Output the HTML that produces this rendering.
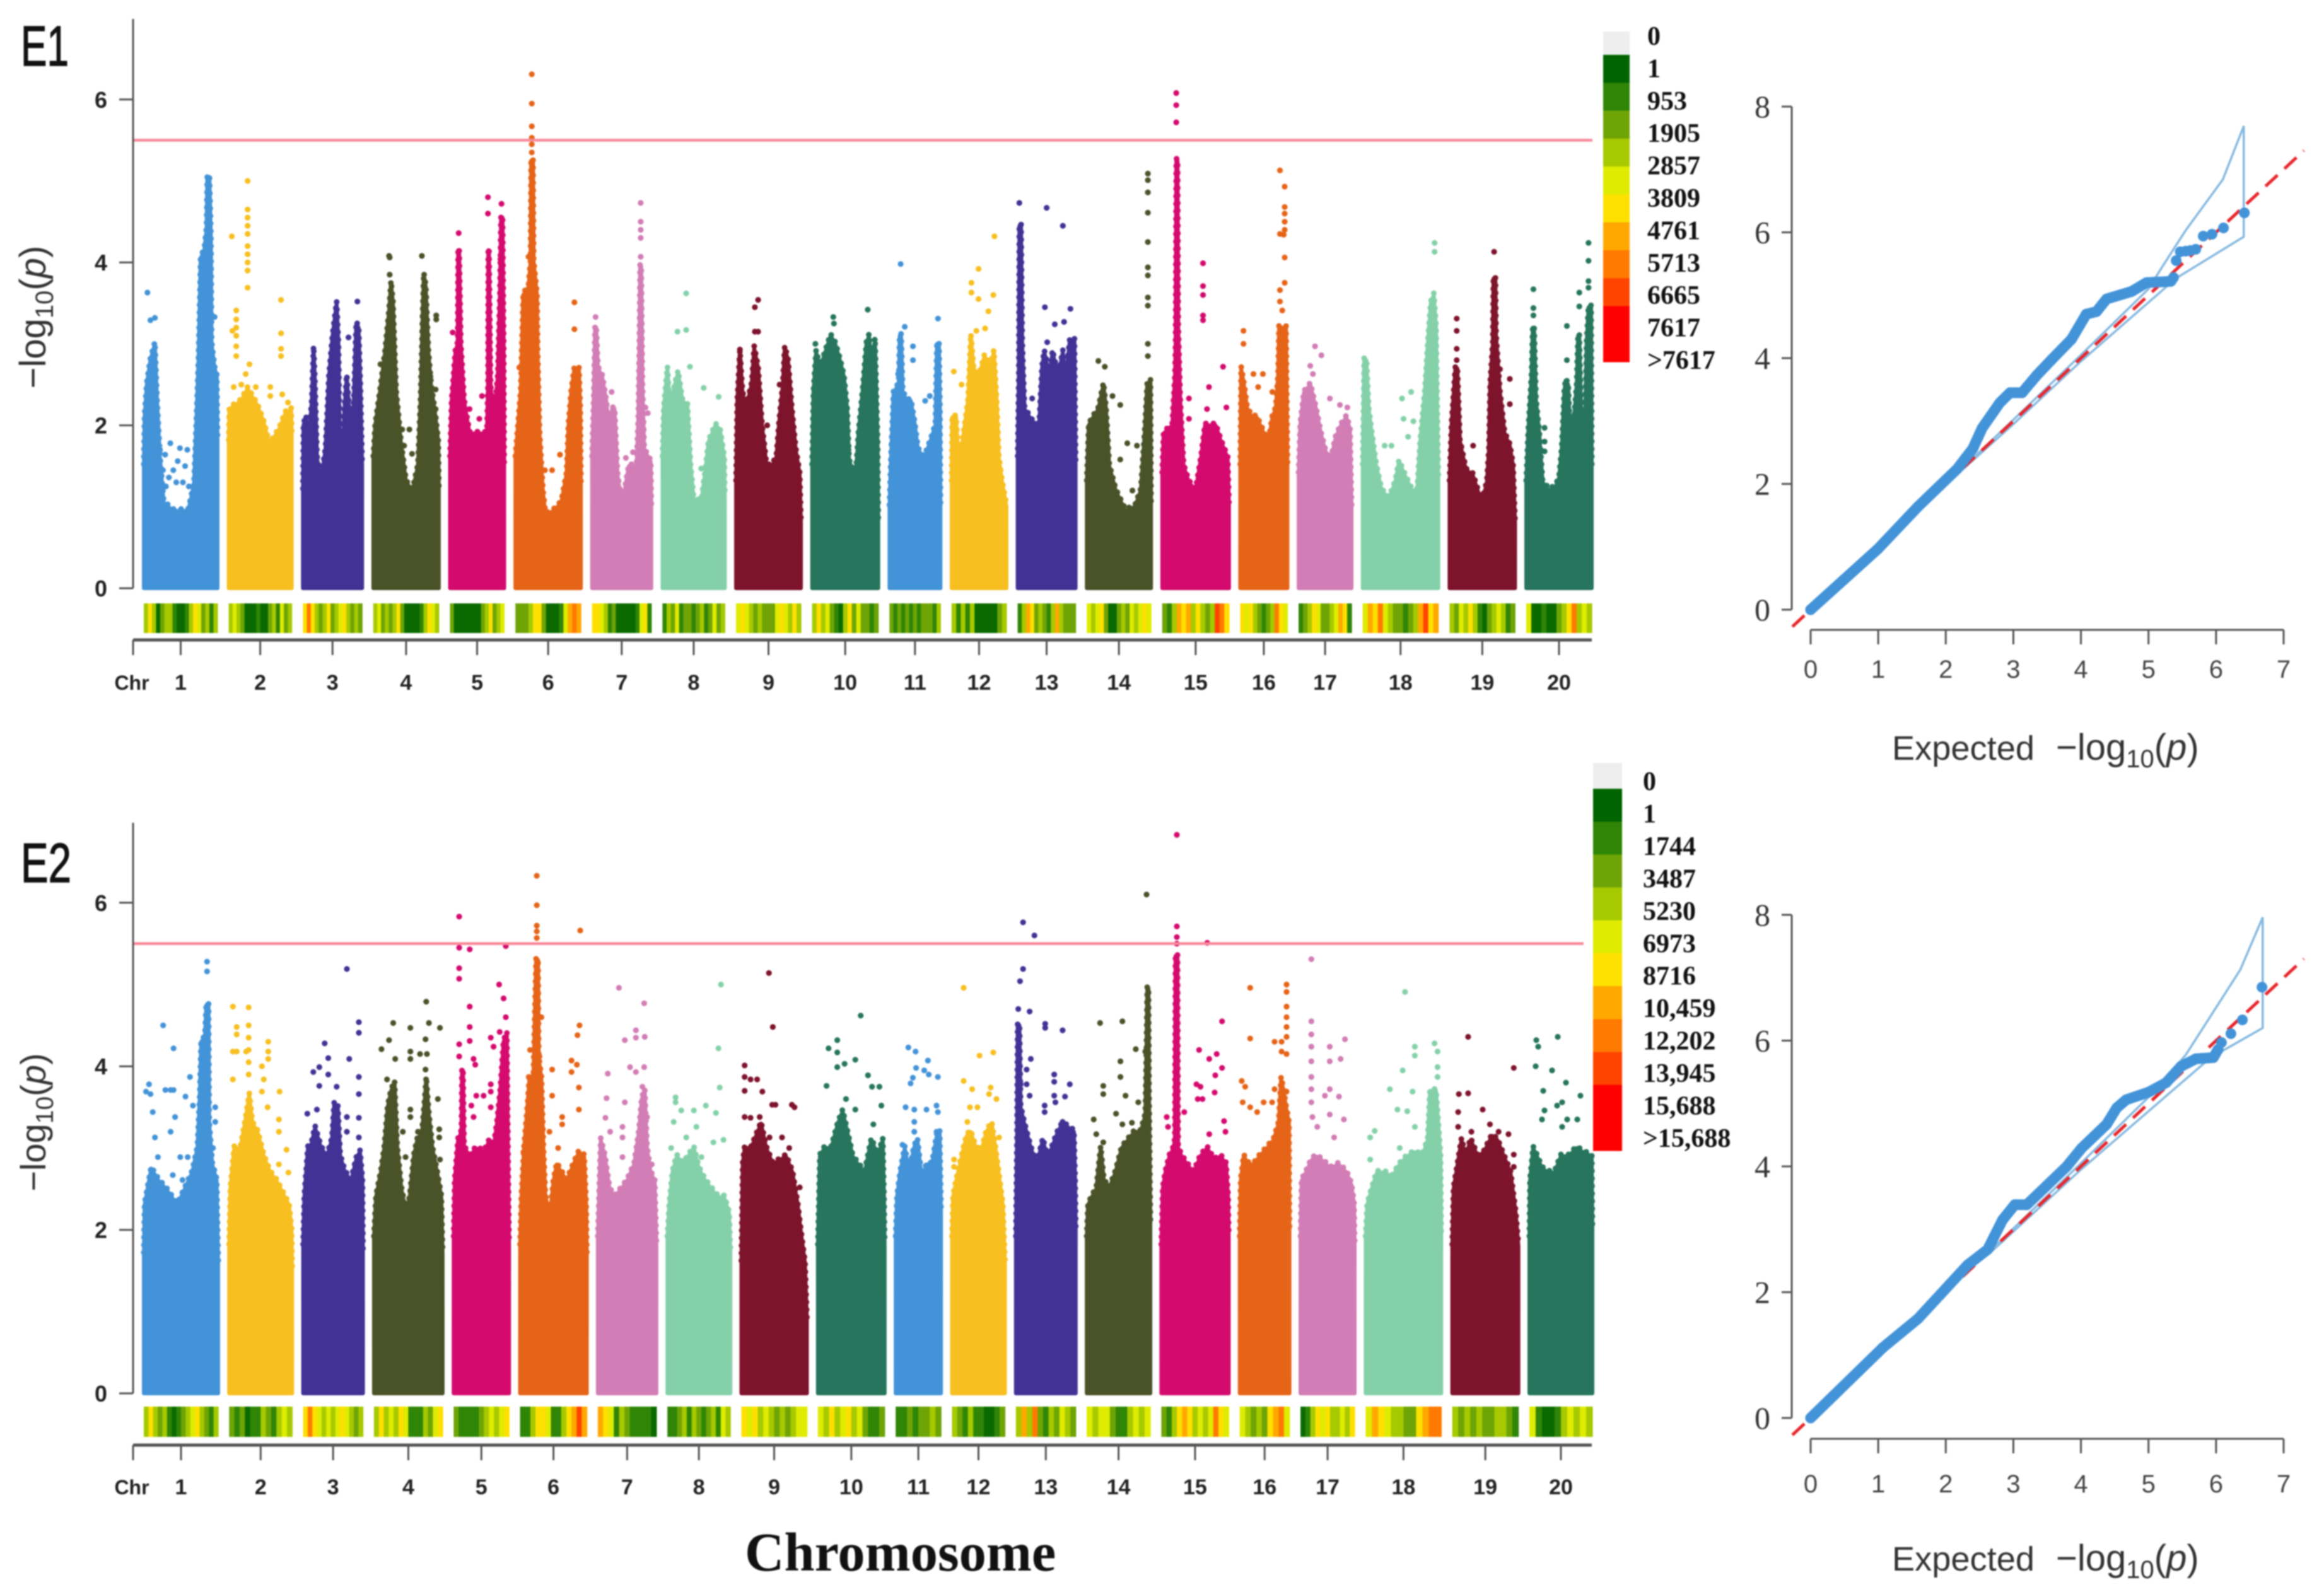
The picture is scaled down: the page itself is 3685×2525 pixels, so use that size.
<!DOCTYPE html>
<html lang="en">
<head>
<meta charset="utf-8">
<title>Manhattan and QQ plots E1 E2</title>
<style>
html,body{margin:0;padding:0;background:#fff;}
svg{display:block;filter:blur(1px);}
text{font-family:"Liberation Sans",sans-serif;}
.serif{font-family:"Liberation Serif",serif;}
</style>
</head>
<body>
<svg id="chart" xmlns="http://www.w3.org/2000/svg" width="3685" height="2525" viewBox="0 0 3685 2525">
  <rect width="3685" height="2525" fill="#fff"/>
  <text x="33" y="104" font-size="90" fill="#111" stroke="#111" stroke-width="1.5" textLength="76" lengthAdjust="spacingAndGlyphs">E1</text>
  <text x="33" y="1399" font-size="88" fill="#111" stroke="#111" stroke-width="1.5" textLength="80" lengthAdjust="spacingAndGlyphs">E2</text>
  <text transform="translate(72,503) rotate(-90)" text-anchor="middle" font-size="58" fill="#333">−log<tspan dy="12" font-size="40">10</tspan><tspan dy="-12">(</tspan><tspan font-style="italic">p</tspan>)</text>
  <text transform="translate(72,1780) rotate(-90)" text-anchor="middle" font-size="56" fill="#333">−log<tspan dy="12" font-size="39">10</tspan><tspan dy="-12">(</tspan><tspan font-style="italic">p</tspan>)</text>
  <text class="serif" x="1181" y="2491" font-size="86.5" font-weight="bold" fill="#111">Chromosome</text>
  <text x="3000" y="1205" font-size="54" fill="#333" textLength="226" lengthAdjust="spacingAndGlyphs">Expected</text>
  <text x="3260" y="1205" font-size="58" fill="#333">−log<tspan dy="12" font-size="40">10</tspan><tspan dy="-12">(</tspan><tspan font-style="italic">p</tspan>)</text>
  <text x="3000" y="2491" font-size="54" fill="#333" textLength="226" lengthAdjust="spacingAndGlyphs">Expected</text>
  <text x="3260" y="2491" font-size="58" fill="#333">−log<tspan dy="12" font-size="40">10</tspan><tspan dy="-12">(</tspan><tspan font-style="italic">p</tspan>)</text>
</svg>
<script>
/* ---------- chart data ---------- */
const chromosomes = ['1','2','3','4','5','6','7','8','9','10','11','12','13','14','15','16','17','18','19','20'];
const e1ChrLengths = [123,106,100,110,92,110,100,105,109,111,87,93,98,108,112,81,90,126,110,110];
const e2ChrLengths = [124,106,101,115,94,112,99,106,110,112,78,90,101,107,113,85,92,126,111,106];
const yTickValues = [0,2,4,6];
const significanceThreshold = 5.5;
const qqYTicks = [0,2,4,6,8];
const qqXTicks = [0,1,2,3,4,5,6,7];
const e1LegendLabels = ['0','1','953','1905','2857','3809','4761','5713','6665','7617','>7617'];
const e2LegendLabels = ['0','1','1744','3487','5230','6973','8716','10,459','12,202','13,945','15,688','>15,688'];

/* upper envelope of the dense SNP mass per chromosome: [position % along chromosome, -log10(p)] */
const e1Envelopes = [
[[0,1.5],[1,2.1],[4,2.5],[9,2.8],[15,3.0],[18,2.3],[22,1.6],[27,1.05],[40,0.95],[60,0.95],[64,1.1],[68,1.3],[71,2.0],[74,2.8],[77,4.05],[82,4.15],[85,4.4],[86,5.05],[89,5.05],[91,4.3],[92,3.0],[96,2.7],[99,2.6],[100,1.8]],
[[0,1.8],[1,2.2],[20,2.3],[30,2.45],[45,2.25],[55,2.05],[65,1.75],[72,1.85],[80,1.95],[90,2.15],[99,2.2],[100,1.9]],
[[0,1.2],[1,2.0],[5,2.1],[10,1.85],[15,2.3],[18,2.95],[20,2.6],[24,1.6],[30,1.3],[38,1.7],[44,2.6],[50,3.1],[57,3.5],[60,3.0],[63,1.5],[66,1.3],[70,2.2],[74,2.6],[78,2.2],[84,1.9],[90,3.25],[94,3.2],[97,2.5],[100,1.5]],
[[0,1.6],[3,2.0],[10,2.4],[18,2.9],[24,3.4],[27,3.75],[30,3.5],[35,2.4],[42,1.8],[50,1.3],[60,1.2],[68,1.5],[72,2.3],[75,3.3],[77,3.85],[80,3.7],[84,2.9],[88,2.5],[95,2.1],[99,1.8],[100,1.2]],
[[0,1.6],[3,2.3],[10,2.9],[14,3.0],[15,4.15],[17,4.15],[20,3.0],[26,2.3],[36,1.9],[55,1.9],[68,1.9],[70,2.5],[70.5,4.15],[72,4.15],[75,2.5],[80,2.0],[88,2.6],[92,3.6],[94,4.55],[97,4.55],[99,3.0],[100,1.5]],
[[0,1.6],[3,1.9],[8,2.4],[11,3.3],[12,3.6],[20,3.7],[23,4.0],[24,5.25],[27,5.25],[28,4.0],[33,3.6],[34,2.9],[37,1.9],[42,1.2],[46,0.9],[58,0.95],[70,1.05],[78,1.4],[81,2.0],[85,2.4],[90,2.7],[97,2.7],[99,2.2],[100,1.2]],
[[0,1.6],[3,2.4],[5,3.2],[7,3.2],[10,2.7],[17,2.6],[24,2.3],[30,1.85],[34,2.2],[38,2.2],[43,1.4],[50,1.0],[55,1.2],[62,1.5],[75,1.5],[78,2.1],[80,3.2],[81,3.95],[83,3.95],[85,2.5],[88,1.7],[99,1.55],[100,1.0]],
[[0,1.6],[2,2.2],[8,2.7],[12,2.2],[20,2.5],[25,2.65],[32,2.3],[40,2.25],[45,1.5],[50,1.1],[62,1.05],[68,1.4],[74,1.8],[85,2.0],[92,1.95],[99,1.6],[100,1.1]],
[[0,1.3],[2,2.3],[6,2.9],[10,2.4],[15,2.2],[24,2.5],[28,2.95],[34,2.7],[40,2.0],[47,1.5],[55,1.5],[62,1.6],[66,2.0],[72,2.5],[75,2.95],[80,2.8],[86,2.2],[92,1.7],[98,1.4],[100,0.8]],
[[0,1.5],[2,2.4],[6,2.9],[12,2.7],[20,2.9],[28,3.1],[35,3.0],[42,2.8],[48,2.6],[53,2.2],[56,1.55],[66,1.4],[70,1.9],[76,2.4],[82,3.0],[86,3.1],[90,2.7],[95,3.05],[99,1.8],[100,0.8]],
[[0,1.0],[3,1.6],[8,2.4],[18,2.5],[20,3.1],[23,3.1],[26,2.4],[34,2.3],[42,2.3],[50,2.0],[56,1.7],[68,1.6],[80,1.8],[90,2.0],[93,3.0],[97,3.0],[99,2.2],[100,1]],
[[0,1.3],[1,2.1],[8,2.1],[12,1.65],[20,1.8],[30,2.3],[35,3.1],[40,2.7],[50,2.6],[60,2.85],[70,2.7],[77,2.9],[82,2.3],[86,1.6],[92,1.3],[100,1.0]],
[[0,1.6],[2,2.6],[3,4.45],[6,4.45],[8,3.0],[12,2.2],[25,2.05],[37,2.0],[42,2.7],[46,2.9],[55,2.6],[60,2.9],[70,2.6],[78,2.9],[82,2.5],[90,3.05],[98,3.05],[100,1.5]],
[[0,1.3],[3,2.0],[10,2.1],[18,2.2],[26,2.5],[30,2.2],[35,1.5],[45,1.2],[60,0.95],[75,1.0],[84,1.2],[90,1.9],[94,2.5],[99,2.55],[100,1.0]],
[[0,1.4],[2,1.9],[15,2.0],[19,2.6],[20,3.0],[21,5.25],[23,5.25],[24,3.2],[27,2.3],[32,1.5],[40,1.3],[50,1.2],[58,1.6],[64,2.0],[72,2.0],[80,2.0],[88,1.8],[98,1.6],[100,1.0]],
[[0,1.5],[2,2.7],[8,2.5],[15,2.2],[25,2.1],[35,2.1],[50,1.9],[60,1.8],[68,2.1],[75,2.2],[80,2.6],[82,3.2],[97,3.2],[100,1.5]],
[[0,1.4],[3,2.0],[10,2.4],[22,2.5],[33,2.2],[42,1.9],[50,1.7],[60,1.55],[70,1.85],[80,2.0],[90,2.1],[97,1.95],[100,1.0]],
[[0,1.5],[2,2.8],[5,2.8],[8,2.2],[12,1.9],[18,1.5],[25,1.2],[35,1.1],[43,1.3],[48,1.55],[55,1.4],[65,1.2],[72,1.2],[76,1.8],[82,2.4],[86,3.0],[90,3.5],[94,3.6],[97,3.2],[100,1.3]],
[[0,1.3],[3,2.0],[9,2.7],[12,2.7],[16,1.8],[25,1.45],[35,1.4],[45,1.15],[50,1.05],[57,1.3],[60,1.7],[62,2.5],[66,3.0],[67,3.8],[70,3.8],[71,3.1],[77,2.4],[84,1.9],[92,1.75],[97,1.5],[100,0.8]],
[[0,1.3],[3,1.9],[8,2.6],[10,3.2],[12,3.2],[15,2.3],[20,1.9],[25,1.3],[35,1.2],[45,1.25],[50,1.35],[54,1.7],[58,2.4],[60,2.55],[64,2.5],[66,2.1],[72,2.0],[77,2.5],[79,3.1],[81,3.1],[84,2.1],[90,2.1],[92,3.0],[95,3.45],[99,3.45],[100,1.5]]
];

/* individual SNPs above the envelope: [position %, -log10(p)] */
const e1Hits = [
[[5,3.63],[9,3.29],[15,3.32],[96,3.33],[36,1.78],[49,1.72],[59,1.7],[29,1.64],[22,1.7],[46,1.56],[34,1.36],[20,1.2],[53,1.3],[40,1.45],[44,1.3],[30,1.25],[56,1.5],[26,1.45],[61,1.25]],
[[5,4.32],[30,5.0],[30,4.65],[30,4.55],[30,4.45],[30,4.35],[30,4.2],[30,4.1],[30,4.0],[30,3.9],[30,3.69],[12,3.41],[12,3.3],[12,3.2],[6,3.16],[12,3.1],[12,2.97],[12,2.85],[83,3.54],[83,3.13],[83,2.94],[83,2.85],[33,2.75],[27,2.63],[8,2.47],[20,2.5],[43,2.47],[66,2.47],[85,2.38],[94,2.28],[66,2.36]],
[[92,3.52],[77,3.08]],
[[25,4.06],[24,4.08],[74,4.08],[25,3.85],[96,3.35],[96,3.3],[11,2.75],[87,2.6],[85,2.46],[95,2.44],[95,2.2],[44,1.95],[55,1.95],[47,1.75],[59,1.65]],
[[16,4.36],[5,3.14],[70,4.8],[70,4.6],[95,4.72],[59,2.36],[93,4.04],[36,2.2],[54,2.08],[18,2.66]],
[[25,6.31],[25,5.95],[25,5.67],[25,5.53],[25,5.45],[25,5.35],[90,3.51],[90,3.18],[6,2.71],[20,4.07],[26,3.96],[68,1.64],[56,1.45],[45,1.45]],
[[82,4.73],[82,4.5],[82,4.4],[82,4.3],[82,4.07],[83,3.13],[83,2.85],[6,3.33],[33,2.41],[90,2.22],[94,2.15],[57,1.6],[69,1.67],[48,1.2],[50,0.95]],
[[38,3.62],[24,3.15],[38,3.17],[44,2.72],[66,2.46],[90,2.35],[62,1.47]],
[[34,3.54],[29,3.45],[29,3.15],[34,3.15],[6,2.93],[6,2.79],[67,2.5],[48,2.0]],
[[32,3.33],[33,3.25],[84,3.42],[5,3.0],[55,1.7]],
[[22,3.98],[30,3.21],[95,3.31],[46,2.97],[46,2.8],[17,2.63],[79,2.36],[70,2.3],[74,1.53],[70,1.15]],
[[78,4.32],[49,3.92],[36,3.75],[36,3.63],[49,3.55],[76,3.6],[67,3.4],[61,3.19],[45,3.16],[4,2.66],[18,2.5]],
[[3,4.73],[50,4.67],[78,4.45],[47,3.45],[91,3.43],[80,3.27],[64,3.24],[51,3.02],[25,2.33]],
[[95,5.09],[95,5.01],[95,4.86],[95,4.61],[95,4.25],[95,3.94],[95,3.84],[95,3.57],[95,3.47],[95,3.0],[95,2.85],[18,2.79],[28,2.72],[40,2.36],[52,2.25],[63,1.78],[78,1.75],[71,1.2],[52,1.58]],
[[21,6.08],[21,5.93],[21,5.72],[61,3.99],[61,3.71],[61,3.6],[61,3.35],[61,3.29],[91,2.72],[70,2.47],[40,2.33],[40,2.08],[96,2.22],[67,2.2]],
[[7,3.16],[7,3.0],[84,5.13],[94,4.93],[94,4.68],[94,4.6],[94,4.5],[94,4.4],[84,4.35],[92,4.34],[94,4.06],[94,3.75],[84,3.66],[84,3.52],[89,3.41],[28,2.63],[48,2.63],[38,2.47],[68,2.41]],
[[31,2.97],[43,2.86],[22,2.73],[27,2.63],[59,2.33],[78,2.25],[92,2.22]],
[[95,4.24],[95,4.13],[64,2.41],[52,2.33],[54,2.08],[67,2.05],[60,1.86],[29,1.75],[38,1.75]],
[[68,4.13],[11,3.31],[11,3.16],[11,2.94],[11,2.8],[92,2.57],[92,2.26],[77,2.69],[73,2.41],[17,1.75],[36,1.75]],
[[95,4.24],[95,4.02],[95,3.77],[95,3.69],[81,3.63],[81,3.46],[62,3.22],[62,2.8],[11,3.67],[11,3.44],[11,3.35],[28,1.97],[28,1.8],[28,1.68]]
];

const e2Envelopes = [
[[0,1.7],[1,2.3],[5,2.5],[10,2.75],[20,2.6],[30,2.5],[45,2.3],[55,2.5],[65,2.7],[72,3.0],[75,3.6],[77,4.3],[82,4.35],[84,4.75],[87,4.75],[88,3.3],[92,2.8],[98,2.6],[100,1.6]],
[[0,1.8],[2,2.5],[8,3.0],[18,3.0],[25,3.3],[32,3.65],[37,3.3],[45,3.2],[55,2.9],[65,2.7],[75,2.6],[85,2.45],[95,2.3],[99,2.0],[100,1.5]],
[[0,1.8],[2,2.4],[8,3.0],[14,3.05],[20,3.25],[30,3.0],[40,2.9],[48,3.1],[52,3.55],[58,3.5],[62,2.9],[70,2.7],[80,2.6],[90,2.9],[95,2.95],[99,2.6],[100,1.7]],
[[0,1.9],[3,2.4],[10,2.7],[15,3.0],[20,3.5],[25,3.7],[30,3.8],[34,3.0],[40,2.5],[47,2.2],[52,2.4],[58,2.9],[63,3.1],[70,3.2],[74,3.6],[76,3.85],[80,3.4],[85,3.0],[92,2.7],[98,2.4],[100,1.7]],
[[0,1.9],[2,2.6],[8,3.1],[14,3.2],[15,3.95],[17,3.95],[19,3.0],[30,2.9],[40,3.0],[55,2.95],[65,3.1],[72,3.0],[78,3.3],[84,3.7],[90,4.3],[96,4.4],[98,3.0],[100,1.8]],
[[0,1.8],[2,2.4],[6,3.0],[10,3.4],[14,3.85],[20,3.9],[24,5.3],[27,5.3],[28,4.1],[32,3.85],[35,3.0],[38,2.4],[45,2.2],[50,2.6],[55,2.8],[62,2.7],[70,2.6],[80,2.8],[88,2.95],[96,2.9],[99,2.3],[100,1.7]],
[[0,1.9],[2,2.4],[5,3.1],[12,2.9],[20,2.5],[28,2.4],[40,2.5],[50,2.6],[62,2.8],[70,3.2],[75,3.6],[80,3.7],[84,3.0],[90,2.7],[97,2.6],[100,1.8]],
[[0,1.9],[3,2.3],[8,2.7],[15,2.9],[25,2.8],[33,2.9],[42,3.0],[50,2.75],[60,2.6],[70,2.5],[80,2.4],[90,2.4],[98,2.2],[100,1.7]],
[[0,1.6],[2,2.8],[5,3.0],[15,3.0],[25,3.2],[30,3.3],[38,3.0],[48,2.8],[58,2.85],[68,2.9],[78,2.7],[86,2.3],[92,1.9],[97,1.6],[100,0.9]],
[[0,1.8],[3,2.9],[10,3.0],[20,3.0],[30,3.3],[37,3.45],[44,3.2],[52,2.9],[60,2.8],[70,2.7],[80,3.1],[90,2.9],[97,3.1],[99,2.4],[100,1.8]],
[[0,1.9],[3,2.4],[10,2.7],[20,3.0],[30,2.7],[40,3.0],[48,3.1],[58,2.6],[68,2.8],[80,2.8],[92,3.2],[97,3.2],[100,2.2]],
[[0,1.9],[2,2.4],[8,2.6],[15,2.8],[22,3.0],[28,3.15],[35,3.2],[45,3.0],[55,2.95],[65,3.2],[75,3.3],[82,3.0],[90,2.6],[96,2.3],[100,1.6]],
[[0,1.9],[2,3.2],[3,4.5],[6,4.5],[8,3.5],[14,3.3],[25,3.0],[35,2.8],[45,3.1],[52,2.9],[60,3.0],[70,3.2],[78,3.3],[88,3.25],[97,3.2],[99,2.6],[100,2.0]],
[[0,1.9],[2,2.3],[8,2.4],[15,2.5],[22,3.0],[27,2.6],[35,2.5],[45,2.7],[55,3.0],[65,3.1],[75,3.2],[85,3.2],[92,3.4],[94,4.3],[95,4.95],[97,4.95],[98,3.6],[100,2.1]],
[[0,1.8],[2,2.5],[6,2.7],[12,2.9],[18,3.0],[20,3.1],[21,5.35],[24,5.35],[25,3.0],[30,2.9],[38,2.8],[48,2.7],[58,2.9],[68,3.0],[78,2.85],[88,2.9],[96,2.8],[99,2.4],[100,1.9]],
[[0,1.9],[2,2.6],[8,2.9],[18,2.8],[28,2.8],[40,2.9],[55,3.0],[68,3.1],[78,3.3],[83,3.85],[88,3.7],[93,3.5],[99,3.3],[100,2.0]],
[[0,1.9],[2,2.6],[10,2.7],[20,2.85],[28,2.9],[40,2.85],[55,2.75],[70,2.8],[85,2.7],[94,2.55],[99,2.3],[100,1.8]],
[[0,1.9],[2,2.3],[8,2.5],[15,2.7],[25,2.7],[35,2.65],[45,2.8],[55,2.9],[65,2.95],[75,2.9],[82,3.1],[85,3.7],[93,3.7],[96,3.3],[99,2.9],[100,1.9]],
[[0,1.8],[2,2.5],[8,2.8],[14,3.1],[20,2.9],[28,3.1],[38,2.9],[48,2.95],[60,3.15],[68,3.1],[78,2.9],[88,2.7],[96,2.2],[100,1.8]],
[[0,1.9],[1,2.6],[6,3.0],[12,2.9],[20,2.75],[30,2.7],[40,2.7],[50,2.9],[62,2.9],[75,3.0],[85,2.95],[99,2.9],[100,2.0]]
];

const e2Hits = [
[[85,5.28],[85,5.16],[26,4.5],[40,4.22],[62,3.87],[7,3.78],[3,3.69],[9,3.66],[29,3.71],[36,3.71],[40,3.71],[56,3.63],[66,3.52],[96,3.5],[96,3.32],[42,3.38],[12,3.44],[15,3.13],[36,3.2],[49,2.89],[59,2.89],[39,2.67],[19,2.89],[93,3.0],[52,2.61],[39,2.28]],
[[6,4.73],[31,4.72],[12,4.48],[12,4.39],[31,4.5],[31,4.35],[31,4.2],[31,4.05],[31,3.9],[6,4.18],[12,4.18],[27,4.18],[62,4.3],[62,4.18],[62,4.09],[52,4.0],[6,3.84],[55,3.84],[52,3.69],[80,3.69],[61,3.5],[79,3.35],[79,3.2],[91,2.98],[79,2.8],[94,2.7]],
[[73,5.19],[36,4.28],[93,4.54],[93,4.41],[42,4.1],[77,4.09],[17,3.93],[27,3.99],[42,3.9],[93,3.87],[27,3.76],[56,3.75],[93,3.66],[7,3.42],[23,3.47],[73,3.38],[93,3.37],[73,3.2],[93,3.13]],
[[76,4.79],[28,4.53],[53,4.47],[80,4.53],[96,4.47],[22,4.32],[11,4.21],[75,4.33],[31,4.09],[53,4.18],[53,4.09],[67,4.15],[77,4.15],[75,3.96],[93,3.6],[19,3.84],[53,3.47],[53,3.38],[95,3.23],[95,3.13],[96,2.86],[13,2.67],[42,3.2],[46,2.89],[64,3.2]],
[[10,5.83],[10,5.45],[29,5.43],[94,5.47],[10,5.2],[10,5.07],[82,5.0],[90,4.83],[29,4.73],[94,4.6],[29,4.48],[10,4.27],[29,4.31],[10,4.12],[36,4.09],[39,4.02],[67,4.35],[83,4.42],[72,4.24],[67,3.78],[67,3.69],[41,3.64],[54,3.64],[32,3.52],[67,3.5],[85,3.5],[36,3.38]],
[[25,6.33],[25,5.97],[25,5.72],[25,5.65],[25,5.57],[90,5.66],[89,4.5],[86,4.38],[32,4.6],[15,4.2],[29,4.12],[77,4.07],[85,4.02],[48,3.96],[77,3.93],[13,3.87],[88,3.74],[48,3.64],[88,3.47],[63,3.38],[63,3.29],[44,3.2],[57,3.0],[5,2.95]],
[[36,4.96],[79,4.77],[65,4.44],[65,4.35],[46,4.32],[80,4.36],[55,3.99],[79,3.99],[65,3.93],[17,3.91],[15,3.61],[46,3.56],[13,3.37],[42,3.26],[42,3.13],[76,3.75],[84,3.38],[92,2.8],[42,2.89],[21,3.2]],
[[85,5.0],[81,4.22],[83,3.74],[13,3.62],[13,3.56],[22,3.46],[42,3.46],[61,3.52],[77,3.43],[10,3.32],[46,3.26],[89,3.1],[6,3.0],[73,3.07],[30,3.13],[54,2.89]],
[[42,5.14],[48,4.48],[5,4.01],[5,3.87],[5,3.7],[14,3.84],[24,3.84],[32,3.69],[47,3.53],[52,3.53],[77,3.53],[81,3.5],[5,3.38],[14,3.37],[28,3.38],[43,3.13],[62,3.13],[73,3.0],[89,2.52]],
[[64,4.62],[29,4.32],[16,4.22],[29,4.17],[56,4.08],[40,4.03],[29,3.99],[75,3.89],[13,3.76],[81,3.75],[92,3.75],[95,3.52],[42,3.6],[56,3.47],[83,3.29]],
[[28,4.23],[44,4.18],[71,4.07],[45,3.98],[63,3.95],[93,3.87],[38,3.86],[33,3.79],[73,3.9],[22,3.5],[41,3.47],[68,3.47],[90,3.52],[93,3.44],[41,3.32],[41,3.2],[15,3.04],[90,3.2]],
[[22,4.96],[78,4.17],[52,4.13],[22,3.82],[38,3.72],[73,3.74],[84,3.6],[48,3.5],[34,3.5],[29,3.32],[70,3.66],[4,2.86],[4,2.77],[89,3.13]],
[[12,5.76],[31,5.6],[12,5.19],[7,5.04],[4,4.7],[23,4.67],[49,4.52],[49,4.47],[78,4.44],[25,4.09],[18,3.96],[8,3.78],[18,3.78],[23,3.64],[64,3.9],[64,3.81],[64,3.64],[90,3.78],[82,3.63],[48,3.52],[48,3.44],[66,3.56],[78,3.32]],
[[94,6.1],[21,4.53],[56,4.55],[77,4.21],[92,4.18],[53,4.06],[53,3.87],[26,3.76],[26,3.66],[61,3.64],[81,3.56],[11,3.35],[46,3.42],[56,3.29],[71,3.31],[15,3.17],[26,3.07]],
[[23,6.83],[23,5.71],[23,5.58],[23,5.5],[68,5.51],[90,4.55],[56,4.2],[82,4.15],[71,4.09],[90,3.98],[80,3.89],[52,3.78],[58,3.75],[79,3.68],[54,3.6],[61,3.6],[8,3.38],[93,3.33],[10,3.26],[95,3.2],[71,3.17],[34,3.44]],
[[21,4.96],[94,5.0],[94,4.91],[94,4.73],[94,4.6],[94,4.48],[94,4.36],[21,4.34],[70,4.3],[84,4.3],[84,4.18],[94,4.15],[4,3.82],[11,3.75],[70,3.72],[94,3.69],[6,3.56],[21,3.5],[48,3.56],[35,3.44],[65,3.56]],
[[20,5.31],[20,4.55],[20,4.39],[20,4.24],[20,4.06],[20,3.87],[20,3.72],[20,3.56],[54,4.24],[54,4.06],[82,4.33],[74,4.09],[54,3.72],[45,3.64],[71,3.63],[22,3.38],[54,3.41],[80,3.35],[62,3.13],[31,3.26]],
[[52,4.91],[65,4.24],[65,4.13],[91,4.28],[95,4.18],[95,3.99],[95,3.87],[49,3.95],[32,3.72],[62,3.69],[42,3.47],[55,3.45],[12,3.21],[6,3.13],[6,2.86],[65,3.26],[45,3.0]],
[[24,4.36],[93,3.98],[10,3.66],[24,3.67],[9,3.44],[9,3.26],[46,3.47],[57,3.29],[29,3.2],[85,3.17],[93,2.92],[93,2.77],[70,3.2]],
[[11,4.32],[14,4.24],[45,4.36],[10,4.0],[36,3.95],[58,3.8],[22,3.7],[81,3.64],[52,3.56],[44,3.52],[24,3.46],[20,3.35],[60,3.35],[76,3.35],[52,3.26]]
];

/* SNP density level per bin along each chromosome */
const e1Density = ['353023310013542313','3432000100231423','575323523453232','34232352000013543','20000000235234','222355200014676','554312000001451','132412212312423','454323222454353','353421035242212','2121212122213','313130000023','13652321363222','434520023243454','21365635323875','54532123754','123542234651','465743221236856','32435310234312','4001002357343'];
const e2Density = ['3532310123453213','212011321343','5754343454323','35343541113245','21111234345','1135541135686','65413211110','1123132123143','545343232344','435345342112','11212232','3213110012','36372132432','43442113434','2135653434754','432325674','01354533435','465433225677','32323223321','4100134343'];

/* QQ plots: expected vs observed */
const e1QqExpected = [0,1,1.59,2.17,2.4,2.54,2.8,2.95,3.13,3.35,3.57,3.86,4.08,4.23,4.38,4.75,4.97,5.33,5.37,5.41,5.47,5.55,5.62,5.7,5.81,5.94,6.11,6.42];
const e1QqObserved = [0,0.97,1.64,2.24,2.56,2.89,3.29,3.45,3.45,3.73,3.98,4.3,4.7,4.74,4.94,5.06,5.2,5.22,5.28,5.55,5.69,5.7,5.71,5.73,5.94,5.97,6.07,6.31];
const e1QqDenseCount = 19;
const e1CiUpperX = [2.2,3,4,5,5.19,5.55,6.1,6.41];
const e1CiUpperY = [2.2,3.02,4.05,5.1,5.43,6.03,6.84,7.69];
const e1CiLowerX = [6.41,5.41,4,3,2.2];
const e1CiLowerY = [5.93,5.27,3.95,2.95,2.18];

const e2QqExpected = [0,1.07,1.59,2.32,2.62,2.84,3.02,3.2,3.5,3.79,4.01,4.38,4.53,4.67,5,5.26,5.48,5.7,5.96,6.03,6.08,6.22,6.39,6.68];
const e2QqObserved = [0,1.12,1.58,2.43,2.68,3.15,3.39,3.39,3.7,4.0,4.29,4.67,4.93,5.06,5.18,5.33,5.59,5.71,5.73,5.86,5.97,6.11,6.33,6.85];
const e2QqDenseCount = 20;
const e2CiUpperX = [2.65,4,5,5.55,6.36,6.69];
const e2CiUpperY = [2.65,4.05,5.1,5.77,7.13,7.96];
const e2CiLowerX = [6.69,5.92,4,2.65];
const e2CiLowerY = [6.2,5.73,3.95,2.62];

/* ---------- styling ---------- */
const chrPalette = ['#4393d8','#f7bf20','#423295','#4a5228','#d40a6e','#e66418','#d27db5','#84d1a9','#7e132c','#26755c'];
const densityPalette = ['#0a6a00','#2f8506','#6ea406','#a6c900','#dfeb00','#fde000','#ffa800','#ff7a00','#ff4400','#ff0000'];
const legendPalette = ['#eeeeee','#006400','#2f8506','#6ea406','#a6c900','#dfeb00','#fde000','#ffa800','#ff7a00','#ff4400','#ff0000','#ff0000'];

/* ---------- drawing ---------- */
const NS = 'http://www.w3.org/2000/svg';
const root = document.getElementById('chart');
function make(tag, attrs, parent) {
  const node = document.createElementNS(NS, tag);
  for (const key in attrs) node.setAttribute(key, attrs[key]);
  (parent || root).appendChild(node);
  return node;
}

function drawManhattan(cfg) {
  const group = make('g', {});
  
  
  const yScale = v => cfg.y0 - v * cfg.unit;
  const total = cfg.lengths.reduce((a, b) => a + b, 0);
  const gap = (cfg.right - cfg.left - total) / (cfg.lengths.length - 1);
  let cursor = cfg.left;
  const starts = cfg.lengths.map(len => { const s = cursor; cursor += len + gap; return s; });
  const xScale = (c, pos) => starts[c] + 3 + (cfg.lengths[c] - 6) * pos / 100;

  chromosomes.forEach((name, c) => {
    const colour = chrPalette[c % 10];
    const env = cfg.envelopes[c];
    let d = 'M' + xScale(c, 0) + ' ' + yScale(0);
    env.forEach(p => { d += 'L' + xScale(c, p[0]).toFixed(1) + ' ' + yScale(p[1]).toFixed(1); });
    d += 'L' + xScale(c, 100) + ' ' + yScale(0) + 'Z';
    const mass = make('path', { d: d, fill: colour, stroke: colour, 'stroke-width': 6, 'stroke-linejoin': 'round' }, group);
    
    
    /* dotted fringe following the mass outline */
    const edge = env.map(p => xScale(c, p[0]).toFixed(1) + ',' + (yScale(p[1]) - 3).toFixed(1)).join(' ');
    const fringe = make('polyline', { points: edge, fill: 'none', stroke: colour, 'stroke-width': 9, 'stroke-linecap': 'round', 'stroke-dasharray': '0 12' }, group);
    
    
    cfg.hits[c].forEach(p => {
      const dot = make('circle', { cx: xScale(c, p[0]).toFixed(1), cy: yScale(p[1]).toFixed(1), r: 4.6, fill: colour }, group);
      
      
    });
    /* density strip */
    const bins = cfg.density[c];
    const bw = (cfg.lengths[c] - 6) / bins.length;
    for (let b = 0; b < bins.length; b++) {
      const cell = make('rect', { x: (starts[c] + 3 + b * bw).toFixed(1), y: cfg.stripTop, width: (bw + 0.6).toFixed(1), height: cfg.stripH, fill: densityPalette[+bins[b]] }, group);
      
      
    }
    /* x tick and label */
    const tx = starts[c] + cfg.lengths[c] / 2;
    const tick = make('line', { x1: tx, x2: tx, y1: cfg.axisY, y2: cfg.axisY + 24, stroke: '#555', 'stroke-width': 3 }, group);
    
    
    const label = make('text', { x: tx, y: cfg.labelY, 'text-anchor': 'middle', 'font-size': 34, 'font-weight': 'bold', fill: '#222' }, group);
    label.textContent = name;
    
    
  });

  const thr = make('line', { x1: cfg.axisX, x2: cfg.thrEnd, y1: yScale(significanceThreshold), y2: yScale(significanceThreshold), stroke: '#f98a9a', 'stroke-width': 4.5 }, group);
  
  

  const yAxis = make('line', { x1: cfg.axisX, x2: cfg.axisX, y1: cfg.top, y2: cfg.y0, stroke: '#555', 'stroke-width': 3 }, group);
  
  
  yTickValues.forEach(v => {
    const t = make('line', { x1: cfg.axisX - 22, x2: cfg.axisX, y1: yScale(v), y2: yScale(v), stroke: '#555', 'stroke-width': 3 }, group);
    
    
    const l = make('text', { x: 160, y: yScale(v) + 13, 'text-anchor': 'middle', 'font-size': 36, 'font-weight': 'bold', fill: '#222' }, group);
    l.textContent = String(v);
    
    
  });

  const xAxis = make('line', { x1: cfg.axisX, x2: 2524, y1: cfg.axisY, y2: cfg.axisY, stroke: '#555', 'stroke-width': 5 }, group);
  
  
  const endTick = make('line', { x1: cfg.axisX, x2: cfg.axisX, y1: cfg.axisY, y2: cfg.axisY + 24, stroke: '#555', 'stroke-width': 3 }, group);
  
  
  const chr = make('text', { x: 209, y: cfg.labelY, 'text-anchor': 'middle', 'font-size': 32, 'font-weight': 'bold', fill: '#222' }, group);
  chr.textContent = 'Chr';
  
  

  /* legend */
  const cellH = (cfg.legBottom - cfg.legStart) / (legendPalette.length - 1);
  legendPalette.forEach((col, i) => {
    const yTop = i === 0 ? cfg.legTop : cfg.legStart + (i - 1) * cellH;
    const h = i === 0 ? cfg.legStart - cfg.legTop : cellH + 0.5;
    const swatch = make('rect', { x: cfg.legX, y: yTop.toFixed(1), width: cfg.legW, height: h.toFixed(1), fill: col }, group);
    
    
  });
  cfg.legendLabels.forEach((txt, i) => {
    const lab = make('text', { class: 'serif', x: cfg.legLabelX, y: (cfg.legLabelY + i * cfg.legLabelStep + 13).toFixed(1), 'font-size': 42, 'font-weight': 'bold', fill: '#111' }, group);
    lab.textContent = txt;
    
    
  });
}

function drawQq(cfg) {
  const group = make('g', {});
  
  
  const xS = v => 2871 + v * 107.14;
  const yS = v => cfg.y0 - v * 99.75;
  const pts = (xs, ys) => xs.map((x, i) => xS(x).toFixed(1) + ',' + yS(ys[i]).toFixed(1)).join(' ');

  const ci = make('polyline', { points: pts(cfg.ciUpperX.concat(cfg.ciLowerX), cfg.ciUpperY.concat(cfg.ciLowerY)), fill: 'none', stroke: '#86b9e0', 'stroke-width': 3.5 }, group);
  
  

  const ref = make('line', { x1: xS(-0.27), y1: yS(-0.27), x2: xS(7.3), y2: yS(7.3), stroke: '#e8262c', 'stroke-width': 5, 'stroke-dasharray': '26 15' }, group);
  
  

  const dense = make('polyline', { points: pts(cfg.expected.slice(0, cfg.dense), cfg.observed.slice(0, cfg.dense)), fill: 'none', stroke: '#4393d8', 'stroke-width': 17, 'stroke-linecap': 'round', 'stroke-linejoin': 'round' }, group);
  
  
  cfg.expected.forEach((e, i) => {
    const p = make('circle', { cx: xS(e).toFixed(1), cy: yS(cfg.observed[i]).toFixed(1), r: 8.5, fill: '#4393d8' }, group);
    
    
  });

  const yAxis = make('line', { x1: 2841, x2: 2841, y1: yS(8), y2: yS(0), stroke: '#555', 'stroke-width': 3 }, group);
  
  
  qqYTicks.forEach(v => {
    const t = make('line', { x1: 2825, x2: 2841, y1: yS(v), y2: yS(v), stroke: '#555', 'stroke-width': 3 }, group);
    
    
    const l = make('text', { class: 'serif', x: 2807, y: yS(v) + 17, 'text-anchor': 'end', 'font-size': 50, fill: '#333' }, group);
    l.textContent = String(v);
    
    
  });
  const xAxis = make('line', { x1: xS(0), x2: xS(7), y1: cfg.axisY, y2: cfg.axisY, stroke: '#555', 'stroke-width': 3 }, group);
  
  
  qqXTicks.forEach(v => {
    const t = make('line', { x1: xS(v), x2: xS(v), y1: cfg.axisY, y2: cfg.axisY + 23, stroke: '#555', 'stroke-width': 3 }, group);
    
    
    const l = make('text', { x: xS(v), y: cfg.labelY, 'text-anchor': 'middle', 'font-size': 40, fill: '#444' }, group);
    l.textContent = String(v);
    
    
  });
}

drawManhattan({
  id: 'e1', lengths: e1ChrLengths, envelopes: e1Envelopes, hits: e1Hits, density: e1Density, legendLabels: e1LegendLabels,
  left: 225, right: 2527, y0: 933, unit: 129.2, top: 30, axisX: 211, axisY: 1015, labelY: 1094, stripTop: 957, stripH: 47, thrEnd: 2525,
  legX: 2542, legW: 42, legTop: 50, legStart: 87, legBottom: 574, legLabelX: 2612, legLabelY: 58, legLabelStep: 51.4
});
drawManhattan({
  id: 'e2', lengths: e2ChrLengths, envelopes: e2Envelopes, hits: e2Hits, density: e2Density, legendLabels: e2LegendLabels,
  left: 225, right: 2528, y0: 2210, unit: 129.7, top: 1305, axisX: 211, axisY: 2292, labelY: 2370, stripTop: 2231, stripH: 48, thrEnd: 2511,
  legX: 2526, legW: 46, legTop: 1210, legStart: 1251, legBottom: 1825, legLabelX: 2605, legLabelY: 1240, legLabelStep: 51.45
});
drawQq({ id: 'e1', expected: e1QqExpected, observed: e1QqObserved, dense: e1QqDenseCount, ciUpperX: e1CiUpperX, ciUpperY: e1CiUpperY, ciLowerX: e1CiLowerX, ciLowerY: e1CiLowerY, y0: 967, axisY: 999, labelY: 1075 });
drawQq({ id: 'e2', expected: e2QqExpected, observed: e2QqObserved, dense: e2QqDenseCount, ciUpperX: e2CiUpperX, ciUpperY: e2CiUpperY, ciLowerX: e2CiLowerX, ciLowerY: e2CiLowerY, y0: 2249, axisY: 2282, labelY: 2367 });
</script>
</body>
</html>
